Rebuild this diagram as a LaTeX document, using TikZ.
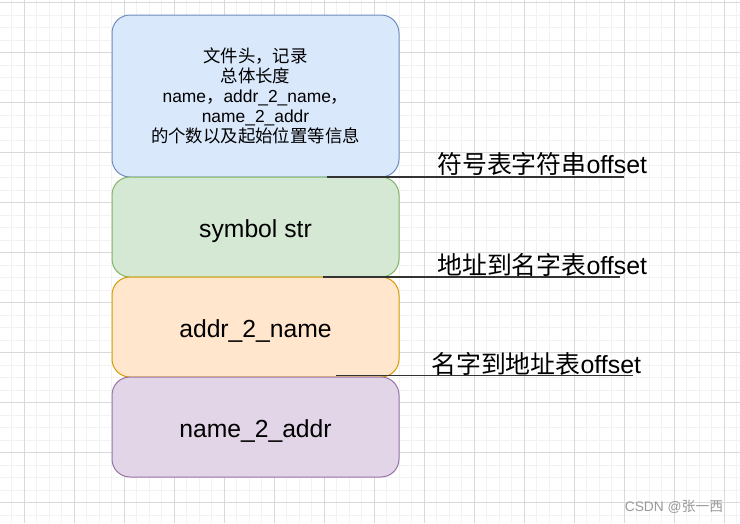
\documentclass[tikz,border=0pt]{standalone}
\usepackage{fontspec}
\setmainfont{Liberation Sans}
\newfontfamily\hanzifont{Noto Sans CJK SC}
\newcommand{\hanzi}[1]{{\hanzifont #1}}
\usetikzlibrary{positioning}
\definecolor{headFill}{HTML}{DAE8FC}
\definecolor{headLine}{HTML}{6C8EBF}
\definecolor{symFill}{HTML}{D5E8D4}
\definecolor{symLine}{HTML}{82B366}
\definecolor{a2nFill}{HTML}{FFE6CC}
\definecolor{a2nLine}{HTML}{D79B00}
\definecolor{n2aFill}{HTML}{E1D5E7}
\definecolor{n2aLine}{HTML}{9673A6}
\tikzset{
  block/.style={draw, rounded corners=18pt, minimum width=287pt, minimum height=100pt,
    line width=1pt, inner sep=0pt, outer sep=0pt, align=center,
    font=\fontsize{24.7}{29}\selectfont},
  part/.style={block, text height=26.5pt, text depth=5pt},
  offlabel/.style={anchor=west, inner sep=0pt, font=\fontsize{24.9}{29}\selectfont},
  offline/.style={draw=black!80, line width=1.2pt},
  gridminor/.style={draw=black!5, line width=1pt},
  gridmajor/.style={draw=black!15, line width=1pt}
}

\begin{document}
\begin{tikzpicture}[x=1pt, y=-1pt]
  \useasboundingbox[fill=white] (0,0) rectangle (740,523);
  % background grid
  \foreach \i in {1,...,59}
    \draw[gridminor] ({-0.7+12.5*\i},0) -- ({-0.7+12.5*\i},523);
  \foreach \j in {0,...,41}
    \draw[gridminor] (0,{2.7+12.5*\j}) -- (740,{2.7+12.5*\j});
  \foreach \i in {0,...,14}
    \draw[gridmajor] ({24.3+50*\i},0) -- ({24.3+50*\i},523);
  \foreach \j in {0,...,10}
    \draw[gridmajor] (0,{2.7+50*\j}) -- (740,{2.7+50*\j});

  % the four parts of the file
  \node[block, fill=headFill, draw=headLine, minimum height=162pt,
        font=\fontsize{17.4}{20}\selectfont] (head) at (255.5,96)
    {\hanzi{文件头，记录}\\ \hanzi{总体长度}\\
     name\hanzi{，}addr\_2\_name\hanzi{，}\\ name\_2\_addr\\
     \hanzi{的个数以及起始位置等信息}};
  \node[part, fill=symFill, draw=symLine, below=0pt of head] (sym) {symbol str};
  \node[part, fill=a2nFill, draw=a2nLine, below=0pt of sym] (a2n) {addr\_2\_name};
  \node[part, fill=n2aFill, draw=n2aLine, below=0pt of a2n] (n2a) {name\_2\_addr};

  % offsets
  \node[offlabel] (off1) at (437,164) {\hanzi{符号表字符串}offset};
  \node[offlabel] (off2) at (437,265) {\hanzi{地址到名字表}offset};
  \node[offlabel] (off3) at (431,364) {\hanzi{名字到地址表}offset};
  \coordinate (p1) at (327,177);
  \coordinate (q1) at (624,177);
  \coordinate (p2) at (323,277);
  \coordinate (q2) at (620,277);
  \coordinate (p3) at (336,375.5);
  \coordinate (q3) at (633,375.5);
  \draw[offline] (p1) -- (q1);
  \draw[offline] (p2) -- (q2);
  \draw[offline] (p3) -- (q3);

  \node[text=black!40, inner sep=0pt, font=\fontsize{13.8}{15}\selectfont] (mark) at (674,507)
    {CSDN @\hanzi{张一西}};
\end{tikzpicture}
\end{document}
